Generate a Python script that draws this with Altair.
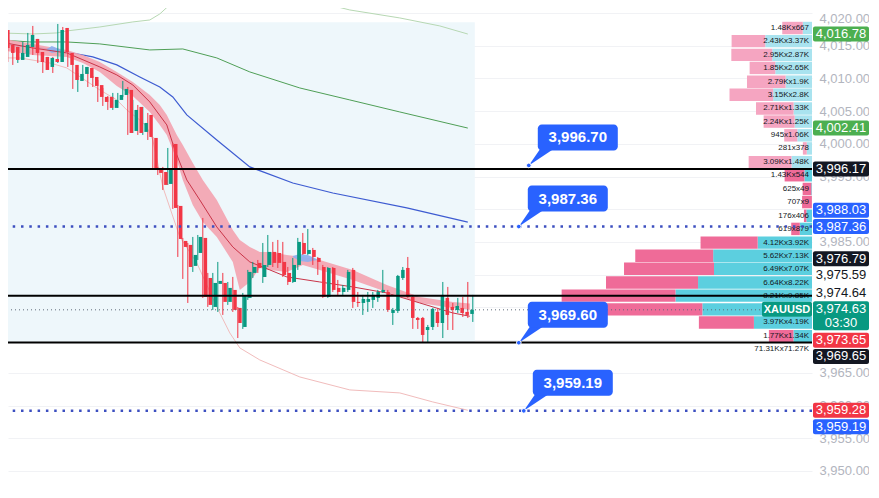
import altair as alt
import pandas as pd

# ---------------- candles (bar index 0..94) ----------------
open_ = [4017.40, 4015.11, 4014.81, 4012.82, 4013.28, 4014.81, 4016.03, 4014.04, 4013.28, 4011.75,
         4012.97, 4012.51, 4017.71, 4013.89, 4012.06, 4009.61, 4010.68, 4011.60, 4010.22, 4008.98,
         4007.17, 4007.17, 4005.49, 4006.71, 4007.47, 4008.24, 4001.97, 4005.64, 4001.82, 4004.42,
         4000.90, 3996.16, 3995.70, 3993.87, 3999.98, 3990.51, 3985.16, 3984.55, 3981.34, 3983.32,
         3985.62, 3979.50, 3975.07, 3978.59, 3978.74, 3975.84, 3977.67, 3974.92, 3972.01, 3976.45,
         3980.27, 3981.80, 3979.66, 3981.49, 3983.48, 3983.32, 3981.95, 3980.27, 3978.89, 3981.49,
         3984.85, 3983.17, 3983.78, 3982.56, 3981.18, 3976.60, 3981.03, 3977.98, 3977.36, 3977.67,
         3980.73, 3975.84, 3975.68, 3975.84, 3976.14, 3976.45, 3977.36, 3977.36, 3974.15, 3974.46,
         3979.50, 3981.03, 3976.60, 3973.39, 3973.39, 3971.55, 3972.01, 3974.31, 3972.62, 3976.45,
         3975.07, 3974.61, 3974.92, 3974.31, 3974.00]
high_ = [4017.56, 4016.64, 4015.11, 4014.81, 4015.57, 4016.95, 4018.02, 4016.03, 4013.58, 4013.28,
         4013.28, 4018.32, 4017.86, 4014.35, 4012.36, 4010.83, 4012.06, 4011.75, 4010.37, 4009.76,
         4008.54, 4007.32, 4007.78, 4007.78, 4009.61, 4008.69, 4006.71, 4005.94, 4005.64, 4004.72,
         4001.05, 3996.47, 3996.47, 3999.37, 4000.14, 3990.66, 3985.62, 3984.85, 3985.77, 3986.07,
         3988.67, 3980.27, 3980.27, 3981.95, 3980.27, 3978.89, 3979.66, 3975.07, 3977.21, 3980.73,
         3981.95, 3982.25, 3984.85, 3986.07, 3985.01, 3985.31, 3985.01, 3981.18, 3982.56, 3985.62,
         3986.38, 3986.99, 3984.09, 3982.71, 3981.49, 3981.18, 3981.18, 3979.20, 3978.43, 3980.73,
         3981.03, 3977.36, 3976.91, 3977.36, 3977.36, 3977.67, 3980.73, 3977.67, 3974.92, 3979.96,
         3981.18, 3982.71, 3976.91, 3973.54, 3973.54, 3972.32, 3974.92, 3974.92, 3978.89, 3978.13,
         3975.68, 3976.45, 3976.60, 3978.89, 3976.91]
low_ = [4013.89, 4012.51, 4012.06, 4012.36, 4013.13, 4014.65, 4013.58, 4012.36, 4010.83, 4011.60,
        4010.83, 4012.36, 4013.89, 4011.75, 4008.39, 4007.93, 4009.76, 4008.69, 4008.69, 4006.40,
        4005.79, 4005.18, 4005.18, 4005.49, 4007.17, 4001.36, 4001.66, 4001.36, 4001.36, 4000.59,
        3996.01, 3995.24, 3992.95, 3993.72, 3990.05, 3982.71, 3979.35, 3975.68, 3980.42, 3982.25,
        3976.45, 3975.07, 3974.61, 3974.31, 3973.85, 3975.38, 3974.31, 3970.32, 3971.71, 3976.14,
        3979.50, 3980.27, 3978.74, 3981.18, 3981.18, 3981.03, 3979.66, 3978.43, 3978.74, 3980.73,
        3983.02, 3983.02, 3981.49, 3979.96, 3976.45, 3976.45, 3977.36, 3976.75, 3976.91, 3977.36,
        3974.92, 3975.07, 3973.85, 3974.31, 3974.92, 3975.84, 3977.21, 3974.31, 3972.32, 3974.15,
        3979.20, 3976.45, 3971.71, 3971.71, 3969.57, 3969.72, 3971.55, 3972.01, 3970.32, 3971.55,
        3971.55, 3974.15, 3973.54, 3973.39, 3972.78]
close_ = [4014.65, 4013.89, 4012.82, 4013.89, 4015.11, 4016.64, 4013.89, 4012.51, 4011.29, 4013.13,
          4012.51, 4017.40, 4014.04, 4012.06, 4009.76, 4010.68, 4011.75, 4010.07, 4008.85, 4007.17,
          4006.40, 4005.49, 4006.71, 4007.47, 4008.39, 4001.66, 4005.18, 4001.66, 4003.19, 4001.05,
          3996.16, 3995.55, 3993.72, 3996.16, 3990.20, 3985.46, 3984.24, 3981.18, 3983.02, 3985.77,
          3976.60, 3975.38, 3978.74, 3979.05, 3975.84, 3977.98, 3974.61, 3972.62, 3976.75, 3980.42,
          3981.18, 3981.03, 3981.49, 3983.48, 3981.80, 3981.80, 3979.96, 3978.89, 3981.49, 3985.01,
          3983.17, 3983.78, 3982.71, 3981.95, 3976.60, 3981.03, 3977.67, 3977.36, 3977.98, 3980.42,
          3975.84, 3975.68, 3976.29, 3976.29, 3976.91, 3977.36, 3977.67, 3974.61, 3974.61, 3979.81,
          3980.73, 3976.60, 3973.39, 3973.08, 3970.79, 3972.01, 3974.77, 3972.62, 3976.91, 3973.85,
          3974.61, 3975.22, 3974.15, 3973.85, 3974.63]

# ---------------- indicator lines (bar index, price) ----------------
ma_slow_t = [-0.5, 5.4, 12.8, 19.4, 29.4, 36.0, 42.8, 49.4, 59.4, 69.4, 79.4, 93.0]
ma_slow_p = [4015.88, 4015.57, 4015.57, 4015.27, 4014.35, 4014.50, 4013.13, 4010.99, 4008.54, 4006.71, 4004.87, 4002.41]

band_up_t = [-0.6, 6.0, 10.8, 12.8, 19.4, 26.0, 29.4, 31.4, 34.0, 36.4, 47.4, 58.4, 61.4, 69.4, 79.4, 87.4, 93.0]
band_up_p = [4016.95, 4016.79, 4016.95, 4017.25, 4017.86, 4018.63, 4018.93, 4019.85, 4021.68, 4023.5,
             4030.0, 4023.5, 4021.99, 4020.46, 4019.24, 4018.02, 4016.78]

ma_mid_t = [-0.6, 6.0, 10.0, 12.8, 18.0, 22.8, 27.4, 31.4, 34.0, 36.8, 42.8, 49.4, 58.0, 66.0, 80.8, 93.0]
ma_mid_p = [4015.11, 4014.81, 4014.35, 4014.04, 4013.28, 4012.06, 4010.22, 4008.69, 4007.17, 4004.42,
            4000.59, 3996.47, 3994.02, 3992.49, 3990.20, 3988.03]

ema_t = [-0.6, 6.0, 12.8, 19.4, 22.8, 26.0, 29.4, 32.8, 34.4, 36.8, 39.4, 42.8, 46.0, 49.4, 53.4, 56.8,
         63.4, 70.0, 76.8, 83.4, 90.0, 93.4]
ema_p = [4015.57, 4014.65, 4013.89, 4011.75, 4010.53, 4009.00, 4006.40, 4002.89, 3999.07, 3994.48,
         3991.42, 3987.30, 3984.24, 3981.95, 3980.73, 3979.66, 3978.89, 3978.13, 3977.21, 3975.68,
         3974.15, 3973.65]

rib_t = [-0.6, 6.0, 12.8, 16.0, 19.4, 22.8, 26.0, 29.4, 31.4, 32.8, 34.8, 36.0, 38.0, 40.0, 42.8, 46.0,
         47.4, 49.4, 51.4, 53.4, 56.8, 60.0, 63.4, 70.0, 76.8, 83.4, 90.0, 93.4]
rib_up = [4016.18, 4015.27, 4014.35, 4013.58, 4012.51, 4010.99, 4009.46, 4007.47, 4005.94, 4004.42,
          4001.36, 3999.83, 3997.08, 3994.48, 3991.42, 3986.84, 3985.31, 3984.24, 3983.48, 3983.48,
          3983.02, 3982.71, 3982.25, 3980.73, 3978.43, 3976.60, 3975.84, 3975.59]
rib_lo = [4014.35, 4013.58, 4013.28, 4012.36, 4010.99, 4008.85, 4007.32, 4004.87, 4002.89, 4001.36,
          3997.54, 3994.48, 3990.66, 3988.06, 3985.77, 3981.95, 3977.67, 3978.89, 3981.03, 3980.73,
          3980.42, 3981.49, 3980.73, 3979.20, 3977.36, 3975.68, 3974.92, 3974.64]

cross_g = ["a", "a", "a", "a", "b", "b", "b", "b"]
cross_t = [8.8, 9.8, 10.8, 11.8, 58.0, 59.4, 61.0, 62.8]
cross_up = [4014.50, 4014.96, 4014.65, 4014.35, 3982.86, 3983.17, 3983.02, 3982.41]
cross_lo = [4014.35, 4013.89, 4014.04, 4014.19, 3982.71, 3982.10, 3981.95, 3982.25]

band_lo_t = [-0.6, 3.4, 9.4, 12.8, 19.4, 22.8, 24.8, 27.4, 28.8, 30.0, 32.0, 35.4, 38.8, 42.8, 45.4,
             47.4, 51.4, 59.4, 69.4, 79.4, 86.0, 93.0]
band_lo_p = [4013.13, 4013.13, 4012.36, 4011.60, 4008.24, 4006.71, 4005.18, 4003.65, 4002.58, 4000.59,
             3993.41, 3985.77, 3981.80, 3975.07, 3971.10, 3968.81, 3966.97, 3964.37, 3962.39, 3961.93,
             3960.55, 3959.28]

# ---------------- volume profile ----------------
vp_price = [4017.7, 4015.7, 4013.6, 4011.6, 4009.5, 4007.5, 4005.4, 4003.4, 4001.3, 3999.3, 3997.2, 3995.2,
            3993.1, 3991.1, 3989.0, 3987.0, 3984.9, 3982.9, 3980.9, 3978.8, 3976.8, 3974.7, 3972.7, 3970.6]
vp_sell = [1.48, 2.43, 2.95, 1.85, 2.79, 3.15, 2.71, 2.24, 0.945, 0.281, 3.09, 1.43,
           0.625, 0.707, 0.176, 0.619, 4.12, 5.62, 6.49, 6.64, 8.21, 7.02, 3.97, 1.77]
vp_buy = [0.667, 3.37, 2.87, 2.65, 1.9, 2.8, 1.33, 1.25, 1.06, 0.378, 1.48, 0.544,
          0.049, 0.009, 0.406, 0.879, 3.92, 7.13, 7.07, 8.22, 9.85, 7.91, 4.19, 1.34]
vp_label = ["1.48Kx667", "2.43Kx3.37K", "2.95Kx2.87K", "1.85Kx2.65K", "2.79Kx1.9K", "3.15Kx2.8K",
            "2.71Kx1.33K", "2.24Kx1.25K", "945x1.06K", "281x378", "3.09Kx1.48K", "1.43Kx544",
            "625x49", "707x9", "176x406", "619x879", "4.12Kx3.92K", "5.62Kx7.13K", "6.49Kx7.07K",
            "6.64Kx8.22K", "8.21Kx9.85K", "7.02Kx7.91K", "3.97Kx4.19K", "1.77Kx1.34K"]
vp_in_value_area = [False] * 11 + [True] * 13
vp_total_label = "71.31Kx71.27K"

# ---------------- levels, callouts, price tags ----------------
solid_levels = [3996.17, 3976.79, 3969.65]
dotted_levels = [3987.36, 3959.19]
last_price = 3974.63
zone_t = [-2.0, 94.4]
zone_p = [3969.65, 4018.6]

callout_val = [3996.70, 3987.36, 3969.60, 3959.19]
callout_t = [105.2, 103.2, 103.2, 104.2]

tag_val = [4016.78, 4002.41, 3996.17, 3988.03, 3987.36, 3976.79, 3975.59, 3974.64, 3974.63,
           3973.65, 3969.65, 3959.28, 3959.19]
tag_bg = ["#4caf50", "#4caf50", "#131722", "#2962ff", "#2962ff", "#131722", "#ffffff", "#ffffff",
          "#089981", "#f23645", "#131722", "#f23645", "#2962ff"]
tag_fg = ["#ffffff"] * 6 + ["#131722", "#131722"] + ["#ffffff"] * 5
tag_shift_px = [0, 0, 0, -12, 0, -37, -29, -17, -1, 24, 14, 0, 16]
tag_lines = [1, 1, 1, 1, 1, 1, 1, 1, 2, 1, 1, 1, 1]
countdown = "03:30"
symbol = "XAUUSD"

# ---------------- geometry ----------------
W, H = 804, 476
YMIN, YMAX = 3948.01, 4020.76
XMIN, XMAX = 1.04, 161.84
VMAX = 58.0
PPT = H / (YMAX - YMIN)
FONT = "Liberation Sans"

YS = alt.Scale(domain=[YMIN, YMAX], nice=False, zero=False)
XS = alt.Scale(domain=[XMIN, XMAX], nice=False, zero=False)
VS = alt.Scale(domain=[0, VMAX], nice=False, zero=False, reverse=True)
YAX = alt.Axis(orient="right", values=list(range(3950, 4021, 5)), format=",.2f",
               labelColor="#b2b5be", labelFontSize=13, labelFont=FONT, domain=False,
               ticks=False, labelPadding=7, grid=True, gridColor="#f1f2f5", title=None,
               labelOverlap=False, labelFlush=6)


def Y(f):
    return alt.Y(f, type="quantitative", scale=YS, axis=YAX)


def XT(f):
    return alt.X(f, type="quantitative", scale=XS, axis=None)


def XV(f):
    return alt.X(f, type="quantitative", scale=VS, axis=None)


# ---------------- frames ----------------
n = len(open_)
candles = pd.DataFrame({"t": list(range(n)), "open": open_, "high": high_, "low": low_, "close": close_})
candles["col"] = ["#089981" if c >= o else "#f23645" for o, c in zip(open_, close_)]

zone = pd.DataFrame({"t0": [zone_t[0]], "t1": [zone_t[1]], "p0": [zone_p[0]], "p1": [zone_p[1]]})


def line_df(ts, ps):
    return pd.DataFrame({"t": ts, "p": ps})


rib = pd.DataFrame({"t": rib_t, "up": rib_up, "lo": rib_lo})
cross = pd.DataFrame({"g": cross_g, "t": cross_t, "up": cross_up, "lo": cross_lo})

half = 0.95
vp_rows = []
for p, s, b, va in zip(vp_price, vp_sell, vp_buy, vp_in_value_area):
    vp_rows.append({"lo": 0.0, "hi": b, "pl": p - half, "ph": p + half,
                    "c": "#5ccfdf" if va else "#a9e3ef"})
    vp_rows.append({"lo": b, "hi": b + s, "pl": p - half, "ph": p + half,
                    "c": "#ef6b98" if va else "#f5a5c1"})
vp_bars = pd.DataFrame(vp_rows)
step = vp_price[0] - vp_price[1]
vp_text = pd.DataFrame({"zero": 0.0, "price": vp_price + [vp_price[-1] - step],
                        "label": vp_label + [vp_total_label]})

solid = pd.DataFrame({"p": solid_levels})
dotted = pd.DataFrame({"p": dotted_levels})
lastp = pd.DataFrame({"p": [last_price], "top": [last_price + 8 / PPT],
                      "bot": [last_price - 7 / PPT], "lab": [symbol]})

callouts = pd.DataFrame({"t": callout_t, "p": callout_val,
                         "lab": [f"{v:,.2f}" for v in callout_val]})

disp = [v - s / PPT for v, s in zip(tag_val, tag_shift_px)]
tags = pd.DataFrame({
    "disp": disp,
    "top": [d + 7.5 / PPT for d in disp],
    "bot": [d - (7.5 + 14 * (k - 1)) / PPT for d, k in zip(disp, tag_lines)],
    "bg": tag_bg, "fg": tag_fg,
    "lab": [f"{v:,.2f}" for v in tag_val],
})
cd = pd.DataFrame({"p": [disp[8]], "lab": [countdown]})

WEDGE = "M0,0L0.44,-0.64L0.96,-0.64Z"

layers = [
    alt.Chart(zone).mark_rect(color="#eef7fb", clip=True).encode(
        x=XT("t0"), x2="t1", y=Y("p0"), y2="p1"),
    alt.Chart(line_df(band_lo_t, band_lo_p)).mark_line(color="#f1bcbc", strokeWidth=1, clip=True).encode(
        x=XT("t"), y=Y("p")),
    alt.Chart(line_df(band_up_t, band_up_p)).mark_line(color="#b7d8b3", strokeWidth=1, clip=True).encode(
        x=XT("t"), y=Y("p")),
    alt.Chart(line_df(ma_slow_t, ma_slow_p)).mark_line(color="#4f9f56", strokeWidth=1, clip=True).encode(
        x=XT("t"), y=Y("p")),
    alt.Chart(line_df(ma_mid_t, ma_mid_p)).mark_line(color="#3d5bd1", strokeWidth=1.2, clip=True).encode(
        x=XT("t"), y=Y("p")),
    alt.Chart(rib).mark_area(color="#f3a2af", opacity=0.9, clip=True).encode(
        x=XT("t"), y=Y("up"), y2="lo"),
    alt.Chart(cross).mark_area(color="#8fb0ee", opacity=0.95, clip=True).encode(
        x=XT("t"), y=Y("up"), y2="lo", detail="g:N"),
    alt.Chart(line_df(ema_t, ema_p)).mark_line(color="#c93448", strokeWidth=1, clip=True).encode(
        x=XT("t"), y=Y("p")),
    alt.Chart(candles).mark_rule(strokeWidth=1, clip=True).encode(
        x=XT("t"), y=Y("low"), y2="high", color=alt.Color("col:N", scale=None)),
    alt.Chart(candles).mark_bar(width=3.5, clip=True).encode(
        x=XT("t"), y=Y("open"), y2="close", color=alt.Color("col:N", scale=None)),
    alt.Chart(vp_bars).mark_rect(clip=True).encode(
        x=XV("lo"), x2="hi", y=Y("pl"), y2="ph", color=alt.Color("c:N", scale=None)),
    alt.Chart(vp_text).mark_text(align="right", baseline="middle", dx=-3, fontSize=8, font=FONT,
                                 color="#131722").encode(x=XV("zero"), y=Y("price"), text="label:N"),
    alt.Chart(lastp).mark_rule(color="#5f6b7a", strokeWidth=1, strokeDash=[1, 3]).encode(y=Y("p")),
    alt.Chart(solid).mark_rule(color="#000000", strokeWidth=2).encode(y=Y("p")),
    alt.Chart(dotted).mark_rule(color="#3c4fc0", strokeWidth=2.5, strokeDash=[2.5, 5.8]).encode(y=Y("p")),
    alt.Chart(lastp).mark_rect(color="#089981", cornerRadius=2).encode(
        x=alt.value(W - 50), x2=alt.value(W), y=Y("top"), y2="bot"),
    alt.Chart(lastp).mark_text(color="white", fontWeight="bold", fontSize=11, font=FONT,
                               baseline="middle", align="center").encode(
        x=alt.value(W - 25), y=Y("p"), text="lab:N"),
    alt.Chart(callouts).mark_point(shape=WEDGE, size=2500, filled=True, color="#2962ff",
                                   opacity=1, strokeWidth=0).encode(x=XT("t"), y=Y("p")),
    alt.Chart(callouts).mark_rect(color="#2962ff", cornerRadius=4, xOffset=9, x2Offset=89,
                                  yOffset=-41, y2Offset=-15).encode(
        x=XT("t"), x2="t", y=Y("p"), y2="p"),
    alt.Chart(callouts).mark_text(color="white", fontWeight="bold", fontSize=15, font=FONT,
                                  dx=49, dy=-28, align="center", baseline="middle").encode(
        x=XT("t"), y=Y("p"), text="lab:N"),
    alt.Chart(callouts).mark_point(filled=True, size=22, color="#2962ff", stroke="#ffffff",
                                   strokeWidth=1, opacity=1).encode(x=XT("t"), y=Y("p")),
    alt.Chart(tags).mark_rect(cornerRadius=2).encode(
        x=alt.value(W + 1), x2=alt.value(W + 57), y=Y("top"), y2="bot",
        color=alt.Color("bg:N", scale=None)),
    alt.Chart(tags).mark_text(fontSize=13, font=FONT, align="center", baseline="middle").encode(
        x=alt.value(W + 29), y=Y("disp"), text="lab:N", color=alt.Color("fg:N", scale=None)),
    alt.Chart(cd).mark_text(fontSize=13, font=FONT, align="center", baseline="middle",
                            color="white", dy=14).encode(x=alt.value(W + 29), y=Y("p"), text="lab:N"),
]

chart = alt.layer(*layers).resolve_scale(x="independent").properties(
    width=W, height=H,
    autosize=alt.AutoSizeParams(type="none"),
    padding={"left": 0, "top": 0, "right": 57, "bottom": 0},
    background="white",
).configure_view(stroke=None)

chart.save("out.html", embed_options={"renderer": "svg", "actions": False})
